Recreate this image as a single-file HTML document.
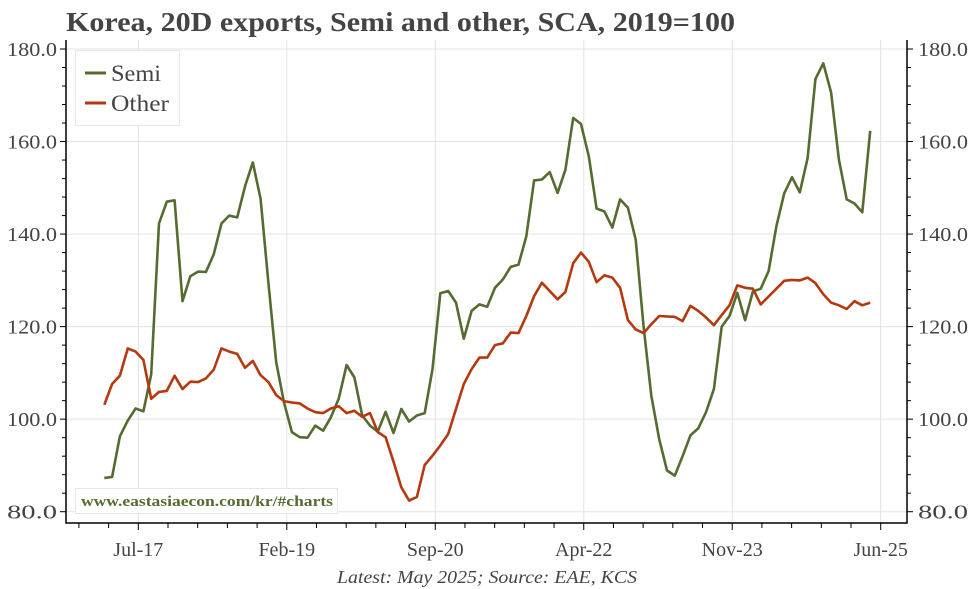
<!DOCTYPE html>
<html><head><meta charset="utf-8">
<style>
html,body{margin:0;padding:0;background:#fff;}
svg{display:block;font-family:"Liberation Serif",serif;}
</style></head>
<body>
<svg id="chart" width="972" height="589" viewBox="0 0 972 589" xmlns="http://www.w3.org/2000/svg">
<rect x="0" y="0" width="972" height="589" fill="#fff"/>
<text x="66" y="31" font-size="27" font-weight="bold" fill="#444" textLength="669" lengthAdjust="spacingAndGlyphs">Korea, 20D exports, Semi and other, SCA, 2019=100</text>
<g id="grid"></g>
<g id="series"></g>
<g id="axes"></g>
<g>
<rect x="75.5" y="50.5" width="104" height="75" fill="#fff" stroke="#e6e6e6"/>
<line x1="85" y1="73" x2="106" y2="73" stroke="#556b2f" stroke-width="3"/>
<text x="111" y="81" font-size="23" fill="#444" textLength="50" lengthAdjust="spacingAndGlyphs">Semi</text>
<line x1="85" y1="103" x2="106" y2="103" stroke="#b5390e" stroke-width="3"/>
<text x="111" y="111" font-size="23" fill="#444" textLength="58" lengthAdjust="spacingAndGlyphs">Other</text>
</g>
<g>
<rect x="75.5" y="488.5" width="262" height="25" fill="#fff" stroke="#e6e6e6"/>
<text x="81" y="506" font-size="15" font-weight="bold" fill="#556b2f" textLength="252" lengthAdjust="spacingAndGlyphs">www.eastasiaecon.com/kr/#charts</text>
</g>
<text x="337" y="583" font-size="18" font-style="italic" fill="#444" textLength="300" lengthAdjust="spacingAndGlyphs">Latest: May 2025; Source: EAE, KCS</text>
</svg>
<script>
const semi = [87.3,87.5,96.3,99.7,102.3,101.7,109.7,142.3,147,147.3,125.5,130.9,131.9,131.8,135.6,142.3,144,143.6,150.3,155.5,147.6,129.5,112.3,103.6,97.2,96.1,96,98.6,97.5,100.4,104.4,111.7,109,100.8,98.6,97.3,101.6,97,102.2,99.5,100.8,101.3,110.8,127.2,127.7,125.2,117.4,123.4,124.8,124.3,128.4,130.2,132.9,133.4,139.5,151.6,151.8,153.4,148.9,153.9,165.1,163.8,156.8,145.5,144.9,141.4,147.5,145.7,138.8,120.2,105.1,95.7,88.9,87.8,92,96.5,98,101.5,106.5,120,122.3,127.3,121.4,127.6,128.2,132,141.7,148.8,152.3,149,156.4,173.5,176.9,170.6,156.1,147.5,146.6,144.7,162.3];
const other = [103.1,107.6,109.4,115.3,114.6,112.8,104.4,105.9,106.1,109.4,106.5,108.1,108,108.8,110.7,115.3,114.6,114.1,111.1,112.6,109.5,108,105.2,103.9,103.6,103.4,102.3,101.5,101.3,102.3,102.8,101.3,101.8,100.5,101.3,97.2,96.1,90.8,85.3,82.4,83.2,90.1,92.1,94.3,96.8,102.2,107.6,110.8,113.3,113.3,116,116.4,118.7,118.6,122.3,126.6,129.5,127.7,125.9,127.5,133.7,136,134,129.6,131.1,130.6,128.4,121.4,119.4,118.6,120.5,122.3,122.2,122.1,121.2,124.5,123.4,122,120.3,122.5,124.6,128.9,128.4,128.2,124.8,126.5,128.2,129.9,130.1,130,130.6,129.4,127,125.2,124.6,123.8,125.5,124.6,125.2];
const yTicks = [80,100,120,140,160,180];
const xTickLabels = ["Jul-17","Feb-19","Sep-20","Apr-22","Nov-23","Jun-25"];
const xTickMonths = [6,25,44,63,82,101];
const startMonth = 1.65;

const NS="http://www.w3.org/2000/svg";
const L=66, R=907, T=40, B=523;
function xs(m){return 138.3+(m-6)*(880.7-138.3)/95;}
function ys(v){return 49+(180-v)*(511.7-49)/100;}
function mk(tag,attrs,parent){const e=document.createElementNS(NS,tag);for(const k in attrs)e.setAttribute(k,attrs[k]);parent.appendChild(e);return e;}
const grid=document.getElementById('grid'), axes=document.getElementById('axes'), series=document.getElementById('series');

yTicks.forEach(v=>{
  const y=ys(v);
  const g=mk('line',{x1:L,x2:R,y1:y,y2:y,stroke:'#e3e3e3','stroke-width':1},grid);
  
  
  const t1=mk('text',{x:L-9,y:y+7,'font-size':20,fill:'#444','text-anchor':'end',textLength:50,lengthAdjust:'spacingAndGlyphs'},axes);
  t1.textContent=v.toFixed(1);
  
  
  const t2=mk('text',{x:R+11,y:y+7,'font-size':20,fill:'#444',textLength:50,lengthAdjust:'spacingAndGlyphs'},axes);
  t2.textContent=v.toFixed(1);
  
  
});
for(let v=80; v<=180; v+=4){
  const y=ys(v), big=(v%20===0);
  const a=mk('line',{x1:L-(big?6:4),x2:L,y1:y,y2:y,stroke:'#000','stroke-width':1},axes);
  
  
  const b=mk('line',{x1:R,x2:R+(big?6:4),y1:y,y2:y,stroke:'#000','stroke-width':1},axes);
  
  
}
xTickMonths.forEach((m,i)=>{
  const x=xs(m);
  const g=mk('line',{x1:x,x2:x,y1:T,y2:B,stroke:'#e3e3e3','stroke-width':1},grid);
  
  
  const t=mk('text',{x:x,y:B+33,'font-size':20,fill:'#444','text-anchor':'middle'},axes);
  t.textContent=xTickLabels[i];
  
  
});
for(let m=6-2*3.8; m<=101.01; m+=3.8){
  const x=xs(m); if(x<L||x>R) continue;
  const big=Math.abs((m-6)/19-Math.round((m-6)/19))<0.01;
  const tk=mk('line',{x1:x,x2:x,y1:B,y2:B+(big?7:5),stroke:'#000','stroke-width':1},axes);
  
  
}
const al=mk('path',{d:`M${L} ${T}V${B}H${R}V${T}`,fill:'none',stroke:'#000','stroke-width':1.5},axes);



function line(data,color,name){
  const d=data.map((v,i)=>(i?'L':'M')+xs(startMonth+i).toFixed(1)+' '+ys(v).toFixed(1)).join('');
  const p=mk('path',{d:d,fill:'none',stroke:color,'stroke-width':2.6,'stroke-linejoin':'round'},series);
  
  
}
line(semi,'#556b2f','semi-line');
line(other,'#b5390e','other-line');
</script>
</body></html>
